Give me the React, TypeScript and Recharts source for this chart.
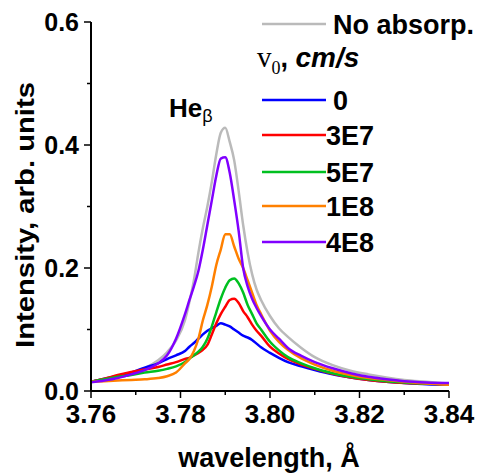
import { Customized, Line, LineChart, XAxis, YAxis } from 'recharts';

const WAVELENGTH = [
  3.76, 3.763, 3.766, 3.769, 3.772, 3.775, 3.777, 3.779, 3.781, 3.782, 3.783, 3.784, 3.785, 3.786, 3.787,
  3.788, 3.789, 3.79, 3.791, 3.792, 3.793, 3.794, 3.795, 3.796, 3.797, 3.798, 3.8, 3.802, 3.804, 3.807,
  3.81, 3.814, 3.818, 3.822, 3.826, 3.83, 3.835, 3.84,
];

const NO_ABSORP = [
  0.015, 0.019, 0.023, 0.029, 0.037, 0.05, 0.063, 0.082, 0.115, 0.145, 0.18, 0.225, 0.265, 0.3, 0.34,
  0.385, 0.42, 0.428, 0.405, 0.375, 0.325, 0.27, 0.225, 0.19, 0.165, 0.148, 0.122, 0.102, 0.088, 0.07,
  0.055, 0.042, 0.033, 0.027, 0.022, 0.018, 0.015, 0.012,
];
const V_0 = [
  0.015, 0.02, 0.025, 0.03, 0.038, 0.045, 0.052, 0.058, 0.065, 0.072, 0.078, 0.085, 0.092, 0.098, 0.102,
  0.106, 0.11, 0.108, 0.105, 0.1, 0.095, 0.09, 0.087, 0.083, 0.077, 0.071, 0.062, 0.054, 0.047, 0.04,
  0.034, 0.027, 0.022, 0.018, 0.015, 0.013, 0.011, 0.01,
];
const V_3E7 = [
  0.015, 0.02, 0.026, 0.031, 0.035, 0.039, 0.043, 0.047, 0.052, 0.054, 0.058, 0.062, 0.067, 0.075, 0.092,
  0.11, 0.125, 0.137, 0.148, 0.15, 0.143, 0.13, 0.12, 0.108, 0.098, 0.09, 0.072, 0.061, 0.052, 0.043,
  0.036, 0.028, 0.022, 0.018, 0.015, 0.013, 0.012, 0.011,
];
const V_5E7 = [
  0.015, 0.019, 0.023, 0.026, 0.03, 0.033, 0.036, 0.04, 0.047, 0.053, 0.058, 0.064, 0.072, 0.085, 0.105,
  0.128, 0.15, 0.168, 0.18, 0.183, 0.175, 0.16, 0.14, 0.125, 0.11, 0.1, 0.08, 0.066, 0.055, 0.045,
  0.037, 0.029, 0.023, 0.019, 0.016, 0.014, 0.012, 0.011,
];
const V_1E8 = [
  0.015, 0.016, 0.017, 0.018, 0.019, 0.021, 0.024, 0.03, 0.045, 0.052, 0.065, 0.085, 0.115, 0.14, 0.17,
  0.205, 0.23, 0.255, 0.255, 0.235, 0.215, 0.2, 0.18, 0.16, 0.14, 0.125, 0.098, 0.08, 0.067, 0.053,
  0.043, 0.033, 0.026, 0.021, 0.018, 0.015, 0.012, 0.01,
];
const V_4E8 = [
  0.014, 0.017, 0.021, 0.027, 0.034, 0.045, 0.058, 0.085, 0.125, 0.148, 0.17, 0.195, 0.23, 0.27, 0.31,
  0.35, 0.378, 0.38, 0.355, 0.31, 0.26, 0.2, 0.17, 0.15, 0.135, 0.122, 0.1, 0.085, 0.07, 0.057,
  0.047, 0.037, 0.029, 0.023, 0.019, 0.016, 0.014, 0.013,
];

const SERIES = [
  { key: 'none', name: 'No absorp.', color: '#bababa', values: NO_ABSORP },
  { key: 'v0', name: '0', color: '#0000ff', values: V_0 },
  { key: 'v3e7', name: '3E7', color: '#ff0000', values: V_3E7 },
  { key: 'v5e7', name: '5E7', color: '#00c020', values: V_5E7 },
  { key: 'v1e8', name: '1E8', color: '#ff8000', values: V_1E8 },
  { key: 'v4e8', name: '4E8', color: '#8000ff', values: V_4E8 },
];

const X_TICKS = [3.76, 3.77, 3.78, 3.79, 3.8, 3.81, 3.82, 3.83, 3.84];
const Y_TICKS = [0, 0.1, 0.2, 0.3, 0.4, 0.5, 0.6];

const FONT = '"Liberation Sans", Arial, sans-serif';
const SERIF = '"Liberation Serif", "Times New Roman", serif';

const rows = WAVELENGTH.map((x, i) => {
  const row: Record<string, number> = { x };
  for (const s of SERIES) row[s.key] = s.values[i];
  return row;
});

function XTick(props: any) {
  const { x, y, index, payload } = props;
  const major = index % 2 === 0;
  return (
    <g>
      <line x1={x} y1={y} x2={x} y2={y + (major ? 7 : 4)} stroke="#000" strokeWidth={1.5} />
      {major && (
        <text x={x} y={y + 32} textAnchor="middle" fontFamily={FONT} fontWeight="bold" fontSize={26} fill="#000">
          {payload.value.toFixed(2)}
        </text>
      )}
    </g>
  );
}

function YTick(props: any) {
  const { x, y, index, payload } = props;
  const major = index % 2 === 0;
  return (
    <g>
      <line x1={x} y1={y} x2={x - (major ? 7 : 4)} y2={y} stroke="#000" strokeWidth={1.5} />
      {major && (
        <text x={x - 12} y={y + 9} textAnchor="end" fontFamily={FONT} fontWeight="bold" fontSize={25} fill="#000">
          {payload.value.toFixed(1)}
        </text>
      )}
    </g>
  );
}

function Annotations() {
  return (
    <g fontFamily={FONT} fill="#000">
      <text
        x={34}
        y={215}
        transform="rotate(-90, 34, 215)"
        textAnchor="middle"
        fontWeight="bold"
        fontSize={25}
        textLength={266}
        lengthAdjust="spacingAndGlyphs"
      >
        Intensity, arb. units
      </text>
      <text x={269} y={467} textAnchor="middle" fontWeight="bold" fontSize={27}>
        wavelength, Å
      </text>
      <text x={169} y={117} fontWeight="bold" fontSize={26}>
        He<tspan fontSize={18} fontWeight="normal" dy={5}>β</tspan>
      </text>
    </g>
  );
}

function LegendBox() {
  const rowsY = [24, 100, 135, 172, 206, 242];
  return (
    <svg width={479} height={260} style={{ position: 'absolute', left: 0, top: 0, overflow: 'visible' }}>
      {SERIES.map((s, i) => (
        <g key={s.key}>
          <line x1={262} x2={326} y1={rowsY[i]} y2={rowsY[i]} stroke={s.color} strokeWidth={2.5} />
          <text x={i < 2 ? 333 : 326} y={rowsY[i] + 10} fontFamily={FONT} fontWeight="bold" fontSize={27} fill="#000">
            {s.name}
          </text>
        </g>
      ))}
      <text x={257} y={67} fill="#000">
        <tspan fontFamily={SERIF} fontSize={29}>v</tspan>
        <tspan fontFamily={SERIF} fontSize={18} dy={7}>0</tspan>
        <tspan fontFamily={FONT} fontWeight="bold" fontSize={27} dy={-7}>, </tspan>
        <tspan fontFamily={FONT} fontWeight="bold" fontStyle="italic" fontSize={28}>cm/s</tspan>
      </text>
    </svg>
  );
}

export default function App() {
  return (
    <div style={{ position: 'absolute', left: 0, top: 0, width: 479, height: 474, background: '#fff' }}>
      <LineChart width={479} height={474} data={rows} margin={{ top: 22, right: 30, left: 0, bottom: 0 }}>
        <XAxis
          type="number"
          dataKey="x"
          domain={[3.76, 3.84]}
          ticks={X_TICKS}
          interval={0}
          height={83}
          tickSize={0}
          tickMargin={0}
          tickLine={false}
          tick={<XTick />}
          axisLine={{ stroke: '#000', strokeWidth: 2 }}
          allowDataOverflow
        />
        <YAxis
          type="number"
          domain={[0, 0.6]}
          ticks={Y_TICKS}
          interval={0}
          width={91}
          tickSize={0}
          tickMargin={0}
          tickLine={false}
          tick={<YTick />}
          axisLine={{ stroke: '#000', strokeWidth: 2 }}
          allowDataOverflow
        />
        {SERIES.map((s) => (
          <Line
            key={s.key}
            type="monotone"
            dataKey={s.key}
            name={s.name}
            stroke={s.color}
            strokeWidth={2.5}
            dot={false}
            isAnimationActive={false}
          />
        ))}
        <Customized component={Annotations} />
      </LineChart>
      <LegendBox />
    </div>
  );
}
